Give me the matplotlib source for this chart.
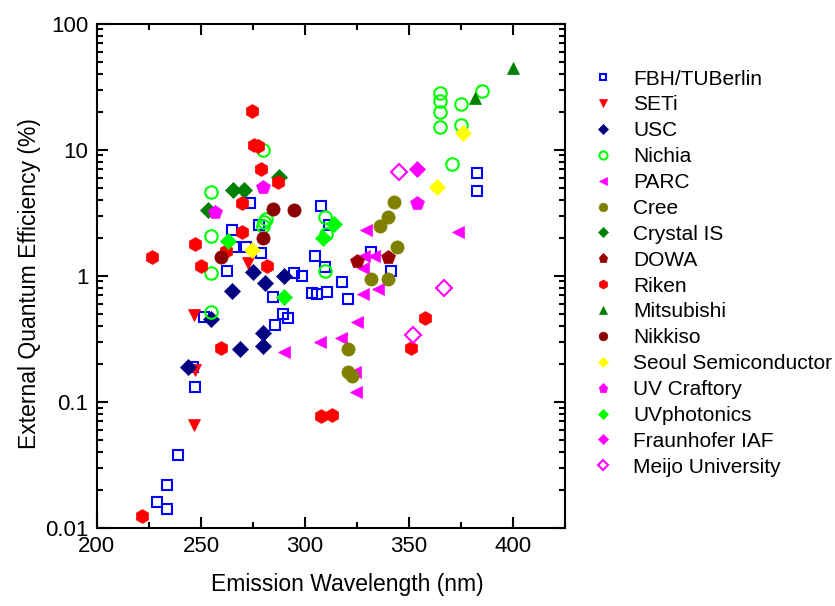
import matplotlib
matplotlib.use("Agg")
import matplotlib.pyplot as plt
from matplotlib.ticker import MultipleLocator, LogLocator, NullFormatter, FixedLocator, FixedFormatter

plt.rcParams['font.family'] = ['Liberation Sans', 'DejaVu Sans']

# wavelength (nm) and EQE (%), one pair of lists per group
fbh_wl = [228.8, 233.7, 233.7, 238.8, 247, 246, 251.6, 262.6, 264.9, 265.9, 271.8, 273.4,
          277.9, 278.8, 284.6, 285.7, 289.4, 291.8, 294.7, 298.7, 303.5, 304.7, 305.8,
          307.8, 309.8, 310.4, 311.7, 317.6, 320.8, 331.7, 341.3, 382.8, 382.8]
fbh_eqe = [0.016, 0.014, 0.022, 0.038, 0.13, 0.19, 0.47, 1.10, 2.32, 1.70, 1.70, 3.8,
           2.53, 1.51, 0.68, 0.41, 0.50, 0.46, 1.06, 1.0, 0.73, 1.43, 0.72,
           3.57, 1.17, 0.74, 2.53, 0.89, 0.65, 1.55, 1.09, 6.5, 4.7]

seti_wl = [246.8, 272.7, 247.1, 246.8]
seti_eqe = [0.49, 1.27, 0.179, 0.065]

usc_wl = [274.9, 280.9, 289.8, 264.9, 254.8, 280, 280, 268.9, 243.9]
usc_eqe = [1.07, 0.88, 0.995, 0.76, 0.45, 0.35, 0.278, 0.26, 0.19]

nichia_wl = [364.9, 364.9, 364.9, 364.9, 374.9, 374.9, 384.8, 370.5, 279.7, 254.8,
             281.3, 280.3, 279.7, 254.8, 254.8, 254.8, 309.8, 309.8, 310]
nichia_eqe = [28, 24.4, 20, 15.1, 23, 15.6, 29.2, 7.7, 9.95, 4.6,
              2.82, 2.68, 2.49, 2.08, 1.05, 0.52, 2.91, 1.10, 2.15]

parc_wl = [329.2, 373.7, 328.5, 333.3, 328, 328, 335.2, 325.1, 317.3, 307.2, 324, 324.5, 290]
parc_eqe = [2.3, 2.21, 1.44, 1.44, 1.16, 0.72, 0.79, 0.43, 0.318, 0.30, 0.171, 0.12, 0.249]

cree_wl = [342.8, 339.7, 336.2, 344.2, 331.7, 339.9, 320.8, 320.8, 322.4]
cree_eqe = [3.87, 2.91, 2.49, 1.70, 0.94, 0.94, 0.26, 0.171, 0.16]

crystal_wl = [265.5, 270.7, 287.6, 253.5]
crystal_eqe = [4.79, 4.8, 6.04, 3.32]

dowa_wl = [324.8, 339.7]
dowa_eqe = [1.31, 1.42]

riken_wl = [274.7, 275.6, 277.5, 278.7, 286.8, 269.9, 269.7, 247, 226.6, 261.9, 249.9,
            281.9, 259.8, 221.8, 307.7, 313, 357.8, 350.8]
riken_eqe = [20.4, 10.8, 10.6, 7.0, 5.5, 3.8, 2.21, 1.80, 1.41, 1.57, 1.20,
             1.20, 0.268, 0.0124, 0.077, 0.079, 0.459, 0.268]

mitsu_wl = [399.7, 381.7]
mitsu_eqe = [44.7, 25.6]

nikkiso_wl = [284.8, 294.9, 280, 259.8]
nikkiso_eqe = [3.37, 3.32, 2.0, 1.41]

seoul_wl = [375.8, 363.6, 274.7]
seoul_eqe = [13.5, 5.1, 1.60]

craftory_wl = [279.7, 256.6, 353.8]
craftory_eqe = [5.03, 3.22, 3.8]

uvphot_wl = [262.8, 289.8, 314, 308.8]
uvphot_eqe = [1.90, 0.68, 2.56, 1.98]

fraun_wl = [353.8]
fraun_eqe = [7.0]

meijo_wl = [344.9, 366.8, 351.8]
meijo_eqe = [6.65, 0.80, 0.338]

series = [
    ("FBH/TUBerlin", fbh_wl, fbh_eqe, 's', '#0000FF', False, 7.5),
    ("SETi", seti_wl, seti_eqe, 'v', '#FF0000', True, 9),
    ("USC", usc_wl, usc_eqe, 'D', '#000080', True, 8),
    ("Nichia", nichia_wl, nichia_eqe, 'o', '#00FF00', False, 9),
    ("PARC", parc_wl, parc_eqe, '<', '#FF00FF', True, 9),
    ("Cree", cree_wl, cree_eqe, 'o', '#808000', True, 9.5),
    ("Crystal IS", crystal_wl, crystal_eqe, 'D', '#008000', True, 8),
    ("DOWA", dowa_wl, dowa_eqe, 'p', '#990000', True, 10),
    ("Riken", riken_wl, riken_eqe, 'h', '#FF0000', True, 10),
    ("Mitsubishi", mitsu_wl, mitsu_eqe, '^', '#008000', True, 9),
    ("Nikkiso", nikkiso_wl, nikkiso_eqe, 'o', '#8B0000', True, 9.5),
    ("Seoul Semiconductor", seoul_wl, seoul_eqe, 'D', '#FFFF00', True, 8),
    ("UV Craftory", craftory_wl, craftory_eqe, 'p', '#FF00FF', True, 10),
    ("UVphotonics", uvphot_wl, uvphot_eqe, 'D', '#00FF00', True, 8),
    ("Fraunhofer IAF", fraun_wl, fraun_eqe, 'D', '#FF00FF', True, 8),
    ("Meijo University", meijo_wl, meijo_eqe, 'D', '#FF00FF', False, 8),
]

fig = plt.figure(figsize=(8.35, 6.06), dpi=100)
ax = fig.add_axes([0.116, 0.129, 0.561, 0.832])

for name, wl, eqe, mk, col, filled, ms in series:
    ax.plot(wl, eqe, linestyle='none', marker=mk, markersize=ms,
            markerfacecolor=col if filled else 'none', markeredgecolor=col,
            markeredgewidth=1.5 if not filled else 0.5, label=name)

ax.set_yscale('log')
ax.set_xlim(200, 425)
ax.set_ylim(0.01, 100)
ax.xaxis.set_major_locator(MultipleLocator(50))
ax.xaxis.set_minor_locator(MultipleLocator(25))
ax.yaxis.set_major_locator(FixedLocator([0.01, 0.1, 1, 10, 100]))
ax.yaxis.set_major_formatter(FixedFormatter(['0.01', '0.1', '1', '10', '100']))
ax.yaxis.set_minor_locator(LogLocator(base=10, subs=range(2, 10)))
ax.yaxis.set_minor_formatter(NullFormatter())

ax.tick_params(which='both', direction='in', top=True, right=True, width=1.5)
ax.tick_params(which='major', length=8, labelsize=16, pad=6)
ax.tick_params(which='minor', length=4)
for sp in ax.spines.values():
    sp.set_linewidth(1.5)

ax.set_xlabel('Emission Wavelength (nm)', fontsize=16.5)
ax.set_ylabel('External Quantum Efficiency (%)', fontsize=16.5)
ax.xaxis.set_label_coords(0.535, -0.09)
ax.yaxis.set_label_coords(-0.12, 0.485)

ax.legend(loc='upper left', bbox_to_anchor=(1.053, 0.909), frameon=False,
          fontsize=15, markerscale=0.65, handlelength=1.2, handletextpad=0.87,
          labelspacing=0.33, borderaxespad=0, borderpad=0)

fig.savefig('out.png', dpi=100)
